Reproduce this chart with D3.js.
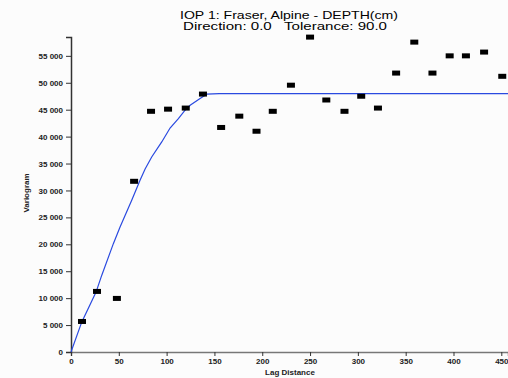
<!DOCTYPE html>
<html>
<head>
<meta charset="utf-8">
<script src="https://cdn.jsdelivr.net/npm/d3@7"></script>
<style>
  body { margin: 0; background: #fcfcfc; }
  svg { display: block; }
</style>
</head>
<body>
<div id="chart"></div>
<script>
// experimental variogram points (lag, variogram)
let lagValues = [11.5, 27.2, 48, 66, 83.7, 101.5, 120, 138, 157, 176, 194, 211, 230, 250, 267, 286, 303.5, 321, 340, 359, 378, 396, 413, 432, 451]
let variogramValues = [5670, 11250, 9950, 31700, 44700, 45100, 45300, 47900, 41700, 43800, 41000, 44700, 49550, 58480, 46800, 44700, 47500, 45300, 51800, 57550, 51800, 55000, 55000, 55700, 51200]

// fitted model line
let modelLag = [0, 11.2, 26.2, 32.1, 44.3, 51.3, 63.5, 72.2, 77.5, 84.4, 94.9, 103.6, 112.3, 119.3, 124.6, 135, 142, 155, 457]
let modelValues = [0, 5540, 11120, 14220, 20120, 23200, 28170, 31890, 34000, 36220, 39010, 41600, 43360, 44900, 45830, 47080, 47880, 48000, 48000]

let xTicks = [0, 50, 100, 150, 200, 250, 300, 350, 400, 450]
let yTicks = [0, 5000, 10000, 15000, 20000, 25000, 30000, 35000, 40000, 45000, 50000, 55000]

let width = 508, height = 378
let plotLeft = 71, plotRight = 508, plotTop = 37, plotBottom = 352

let svg = d3.select('#chart').append('svg')
    .attr('width', width)
    .attr('height', height)

svg.append('rect').attr('width', width).attr('height', height).attr('fill', '#fcfcfc')

let x = d3.scaleLinear().domain([0, 457]).range([plotLeft, plotRight])
let y = d3.scaleLinear().domain([0, 58500]).range([plotBottom, plotTop])

// thousands with a space, like "55 000"
let fmt = d3.formatLocale({decimal: '.', thousands: ' ', grouping: [3], currency: ['', '']}).format(',d')

// title
svg.append('text')
    .attr('x', 289).attr('y', 19)
    .attr('text-anchor', 'middle')
    .attr('textLength', 218).attr('lengthAdjust', 'spacingAndGlyphs')
    .style('font-family', 'Liberation Sans, Arial')
    .style('font-size', '11px')
    .text('IOP 1: Fraser, Alpine - DEPTH(cm)')
svg.append('text')
    .attr('x', 285).attr('y', 30)
    .attr('text-anchor', 'middle')
    .attr('textLength', 204).attr('lengthAdjust', 'spacingAndGlyphs')
    .style('font-family', 'Liberation Sans, Arial')
    .style('font-size', '11px')
    .style('white-space', 'pre')
    .text('Direction: 0.0   Tolerance: 90.0')

// axes
let yAxis = d3.axisLeft(y).tickValues(yTicks).tickFormat(fmt).tickSize(5).tickPadding(3)
let xAxis = d3.axisBottom(x).tickValues(xTicks).tickFormat(fmt).tickSize(4).tickPadding(2)

let gx = svg.append('g').attr('transform', `translate(0,${plotBottom})`).call(xAxis)
gx.select('.domain').attr('stroke', '#777').attr('stroke-width', 1.5)
gx.selectAll('.tick line').attr('stroke', '#333')
gx.selectAll('text').style('font-family', 'Liberation Sans, Arial').style('font-size', '8px')
    .style('font-weight', 'bold').attr('fill', '#222')

let gy = svg.append('g').attr('transform', `translate(${plotLeft},0)`).call(yAxis)
gy.select('.domain').attr('stroke', '#333').attr('stroke-width', 1.5)
gy.selectAll('.tick line').attr('stroke', '#333')
gy.selectAll('text').style('font-family', 'Liberation Sans, Arial').style('font-size', '8px')
    .style('font-weight', 'bold').attr('fill', '#222')

// axis titles
svg.append('text')
    .attr('x', 290).attr('y', 375)
    .attr('text-anchor', 'middle')
    .style('font-family', 'Liberation Sans, Arial')
    .style('font-size', '8px').style('font-weight', 'bold')
    .attr('fill', '#222')
    .text('Lag Distance')
svg.append('text')
    .attr('transform', 'translate(29,193) rotate(-90)')
    .attr('text-anchor', 'middle')
    .style('font-family', 'Liberation Sans, Arial')
    .style('font-size', '8px').style('font-weight', 'bold')
    .attr('fill', '#222')
    .text('Variogram')

// model line
let line = d3.line().x(d => x(d[0])).y(d => y(d[1]))
svg.append('path')
    .datum(modelLag.map((d, i) => [d, modelValues[i]]))
    .attr('d', line)
    .attr('fill', 'none')
    .attr('stroke', '#2a4ae0')
    .attr('stroke-width', 1.2)

// experimental points
svg.selectAll('rect.pt')
    .data(lagValues.map((d, i) => [d, variogramValues[i]]))
    .enter()
    .append('rect')
    .attr('class', 'pt')
    .attr('x', d => x(d[0]) - 4)
    .attr('y', d => y(d[1]) - 2.5)
    .attr('width', 8)
    .attr('height', 5)
    .attr('fill', '#000')
</script>
</body>
</html>
